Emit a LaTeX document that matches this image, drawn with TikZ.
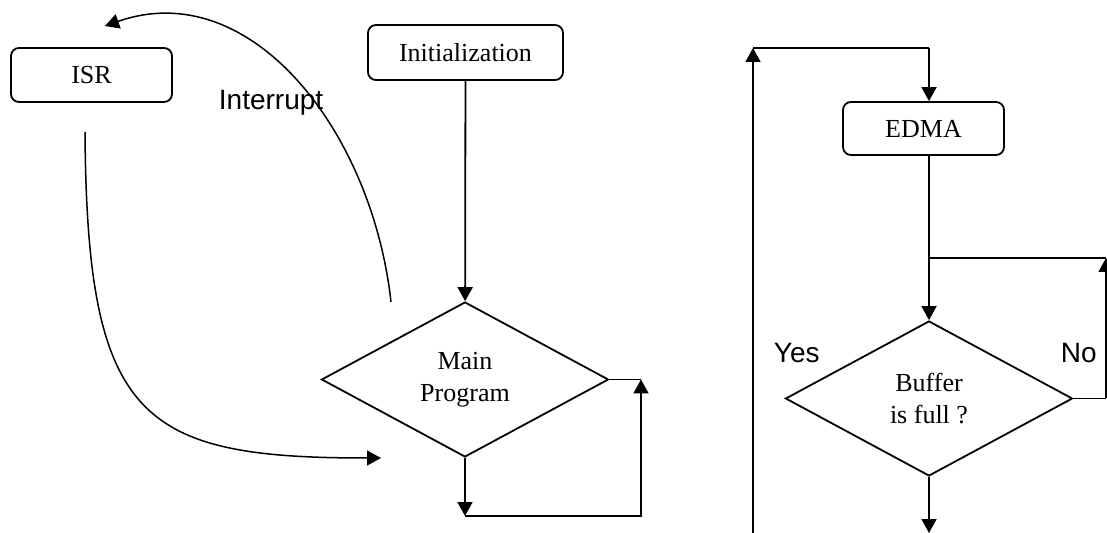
\documentclass[tikz,border=0pt]{standalone}
\usepackage{fontspec}
\setmainfont{Liberation Serif}
\newfontfamily\labelfont{Liberation Sans}
\usetikzlibrary{shapes.geometric,arrows.meta}
\begin{document}
\begin{tikzpicture}[x=0.5pt,y=-0.5pt,
  line width=0.9pt,
  >={Triangle[length=7pt,width=7.5pt]},
  procbox/.style={draw,rounded corners=4pt,inner sep=0pt,
    font=\fontsize{13}{16}\selectfont},
  decision/.style={draw,diamond,inner sep=0pt,align=center,
    minimum width=143.5pt,minimum height=77.5pt,
    font=\fontsize{13}{16}\selectfont},
  tag/.style={inner sep=0pt,anchor=base west,font=\labelfont\fontsize{14}{16}\selectfont}]
\useasboundingbox (0,0) rectangle (1107,533);

% left flow: main loop with interrupt service routine
\node[procbox,minimum width=80.5pt,minimum height=27pt] (isr) at (91.5,75) {ISR};
\node[procbox,minimum width=97.5pt,minimum height=27.5pt] (init) at (465.5,52.5) {Initialization};
\node[decision] (main) at (465,379.5) {Main\\Program};
\node[tag] (intlbl) at (218,110) {Interrupt};

\coordinate (mainbot) at (465,516);
\coordinate (loopbr) at (641,516);
\coordinate (looptr) at (main.east -| loopbr);
\coordinate (intfrom) at (391,302);
\coordinate (intto) at (105,26);
\coordinate (retfrom) at (85,132);
\coordinate (retto) at (381,458);

\draw[->] (init) -- (main);
\draw[->] (main.south) -- (mainbot);
\draw[->] (mainbot) -- (loopbr) -- (looptr);
\draw (main.east) -- (looptr);
\draw[->,line width=0.75pt] (intfrom) .. controls (372,130) and (250,-25) .. (intto);
\draw[->,line width=0.75pt] (retfrom) .. controls (87,420) and (140,458) .. (retto);

% right flow: EDMA transfer and buffer check
\node[procbox,minimum width=80.5pt,minimum height=26.5pt] (edma) at (923.5,128.5) {EDMA};
\node[decision] (buf) at (929,398.5) {Buffer\\is full ?};
\node[tag] (yes) at (773,363) {Yes};
\node[tag] (no) at (1060,363) {No};

\coordinate (backbot) at (753,533);
\coordinate (backtop) at (753,48);
\coordinate (feedtop) at (929,48);
\coordinate (nojoin) at (929,258);
\coordinate (notop) at (1106,258);
\coordinate (nobot) at (buf.east -| notop);
\coordinate (outbot) at (929,533);

\draw[->] (backbot) -- (backtop);
\draw (backtop) -- (feedtop);
\draw[->] (feedtop) -- (feedtop |- edma.north);
\draw[->] (feedtop |- edma.south) -- (buf.north);
\draw (buf.east) -- (nobot);
\draw[->] (nobot) -- (notop);
\draw (notop) -- (nojoin);
\draw[->] (buf.south) -- (outbot);
\end{tikzpicture}
\end{document}
